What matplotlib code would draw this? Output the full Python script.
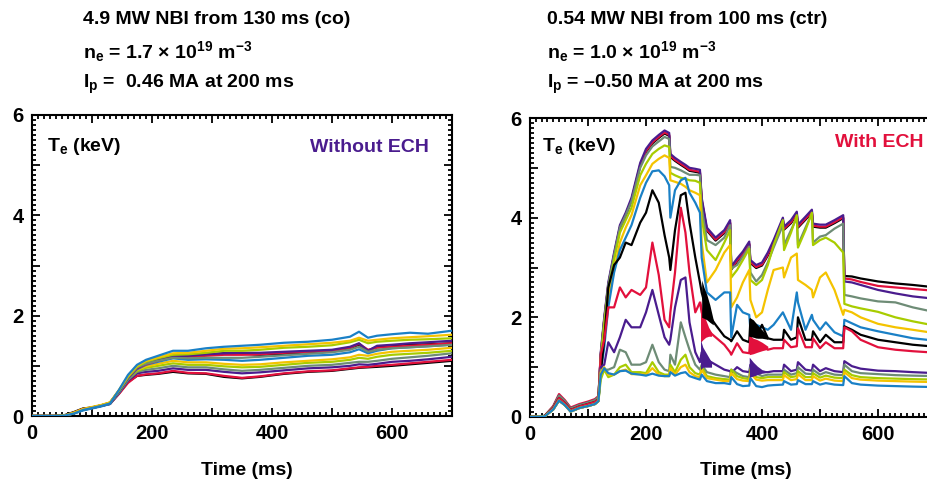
import matplotlib
matplotlib.use('Agg')
import matplotlib.pyplot as plt
from matplotlib.ticker import MultipleLocator, FuncFormatter

plt.rcParams['font.family'] = ['Liberation Sans', 'DejaVu Sans']
plt.rcParams['font.weight'] = 'bold'
plt.rcParams['mathtext.fontset'] = 'custom'
plt.rcParams['mathtext.rm'] = 'Liberation Sans:bold'
plt.rcParams['mathtext.it'] = 'Liberation Sans:bold'
plt.rcParams['mathtext.bf'] = 'Liberation Sans:bold'
plt.rcParams['mathtext.default'] = 'rm'

# channel colours, innermost chord first (two cycles of seven)
colors = ['#000000', '#E2103C', '#4A1C8E', '#6E8C76', '#A8CC00', '#F4C300', '#1A80C6'] * 2

# ---------------- shot without ECH ----------------
t_noech = [0, 40, 55, 70, 85, 100, 115, 130, 145, 160, 175, 190, 210, 235, 260,
           290, 320, 350, 380, 420, 460, 500, 530, 545, 560, 575, 600, 630, 660, 700]

te_noech = [
    [0, 0, 0.01, 0.07, 0.14, 0.16, 0.2, 0.24, 0.45, 0.68, 0.8, 0.82, 0.84, 0.88, 0.85,
     0.84, 0.78, 0.75, 0.78, 0.84, 0.88, 0.9, 0.94, 0.96, 0.97, 0.98, 1.0, 1.03, 1.06, 1.1],
    [0, 0, 0.01, 0.06, 0.13, 0.16, 0.2, 0.24, 0.44, 0.66, 0.8, 0.83, 0.85, 0.9, 0.86,
     0.85, 0.8, 0.76, 0.79, 0.85, 0.89, 0.91, 0.95, 0.97, 0.98, 1.0, 1.02, 1.05, 1.08, 1.12],
    [0, 0, 0.01, 0.06, 0.12, 0.16, 0.2, 0.25, 0.46, 0.7, 0.85, 0.88, 0.9, 0.95, 0.92,
     0.92, 0.88, 0.85, 0.87, 0.91, 0.95, 0.97, 1.0, 1.03, 1.02, 1.04, 1.08, 1.1, 1.13, 1.18],
    [0, 0, 0.01, 0.05, 0.12, 0.16, 0.2, 0.25, 0.47, 0.72, 0.88, 0.92, 0.95, 1.0, 0.97,
     0.97, 0.93, 0.9, 0.92, 0.96, 1.0, 1.02, 1.06, 1.08, 1.08, 1.1, 1.14, 1.17, 1.2, 1.25],
    [0, 0, 0.01, 0.06, 0.13, 0.17, 0.21, 0.26, 0.48, 0.74, 0.9, 0.96, 1.0, 1.05, 1.02,
     1.02, 0.99, 0.97, 0.98, 1.02, 1.06, 1.08, 1.12, 1.16, 1.14, 1.18, 1.22, 1.24, 1.26, 1.3],
    [0, 0, 0.01, 0.06, 0.13, 0.17, 0.21, 0.27, 0.49, 0.75, 0.92, 0.99, 1.04, 1.1, 1.07,
     1.07, 1.04, 1.02, 1.03, 1.07, 1.1, 1.13, 1.17, 1.22, 1.2, 1.24, 1.28, 1.3, 1.32, 1.36],
    [0, 0, 0.01, 0.05, 0.11, 0.15, 0.19, 0.24, 0.47, 0.74, 0.93, 1.02, 1.08, 1.15, 1.12,
     1.13, 1.12, 1.1, 1.12, 1.16, 1.2, 1.22, 1.27, 1.33, 1.25, 1.3, 1.35, 1.37, 1.39, 1.42],
    [0, 0, 0.02, 0.08, 0.15, 0.17, 0.21, 0.26, 0.5, 0.77, 0.97, 1.05, 1.12, 1.2, 1.2,
     1.22, 1.25, 1.24, 1.22, 1.24, 1.27, 1.3, 1.35, 1.42, 1.3, 1.38, 1.4, 1.42, 1.43, 1.45],
    [0, 0, 0.01, 0.07, 0.14, 0.17, 0.21, 0.26, 0.5, 0.76, 0.95, 1.03, 1.1, 1.18, 1.18,
     1.2, 1.22, 1.22, 1.23, 1.26, 1.28, 1.3, 1.36, 1.44, 1.32, 1.36, 1.38, 1.4, 1.42, 1.45],
    [0, 0, 0.01, 0.06, 0.13, 0.17, 0.21, 0.26, 0.5, 0.77, 0.96, 1.05, 1.13, 1.2, 1.2,
     1.23, 1.25, 1.26, 1.26, 1.28, 1.3, 1.32, 1.38, 1.45, 1.3, 1.4, 1.42, 1.45, 1.47, 1.5],
    [0, 0, 0.01, 0.06, 0.13, 0.17, 0.21, 0.26, 0.5, 0.77, 0.97, 1.04, 1.1, 1.16, 1.15,
     1.16, 1.16, 1.16, 1.18, 1.21, 1.24, 1.27, 1.32, 1.38, 1.28, 1.32, 1.35, 1.37, 1.39, 1.42],
    [0, 0, 0.01, 0.06, 0.13, 0.17, 0.21, 0.27, 0.51, 0.78, 0.98, 1.08, 1.15, 1.22, 1.23,
     1.26, 1.3, 1.3, 1.32, 1.36, 1.38, 1.41, 1.47, 1.52, 1.45, 1.48, 1.5, 1.52, 1.53, 1.55],
    [0, 0, 0.01, 0.07, 0.14, 0.18, 0.22, 0.27, 0.52, 0.8, 1.0, 1.1, 1.17, 1.25, 1.26,
     1.3, 1.34, 1.35, 1.37, 1.4, 1.43, 1.46, 1.5, 1.56, 1.5, 1.52, 1.55, 1.57, 1.59, 1.62],
    [0, 0, 0.01, 0.05, 0.12, 0.16, 0.2, 0.25, 0.52, 0.82, 1.02, 1.12, 1.2, 1.3, 1.3,
     1.35, 1.38, 1.4, 1.42, 1.46, 1.48, 1.52, 1.58, 1.68, 1.56, 1.6, 1.63, 1.66, 1.64, 1.7],
]

# ---------------- shot with ECH ----------------
t_ech = [0, 25, 40, 50, 60, 70, 85, 100, 112, 118,
         122, 128, 135, 145, 155, 165, 175, 190, 200, 211,
         222, 232, 240, 242, 250, 260, 268, 275, 285, 293,
         296, 305, 320, 335, 345, 347, 357, 367, 378, 380,
         390, 400, 410, 420, 436, 438, 450, 460, 462, 475,
         486, 488, 500, 510, 525, 540, 542, 555, 570, 600,
         630, 660, 700]

te_ech = [
    # black (core)
    [0.0, 0.02, 0.2, 0.43, 0.32, 0.17, 0.24, 0.29, 0.34, 0.4,
     1.24, 1.94, 2.64, 3.24, 3.79, 4.04, 4.34, 5.04, 5.32, 5.49,
     5.6, 5.69, 5.64, 5.22, 5.14, 5.06, 5.0, 4.94, 4.92, 4.9,
     4.34, 3.74, 3.54, 3.69, 3.89, 2.96, 3.12, 3.26, 3.46, 3.09,
     2.99, 3.04, 3.24, 3.49, 3.94, 3.76, 3.89, 4.06, 3.8, 3.96,
     4.1, 3.82, 3.8, 3.8, 3.89, 3.99, 2.83, 2.82, 2.78, 2.72,
     2.68, 2.65, 2.6],
    # red
    [0.0, 0.02, 0.22, 0.46, 0.34, 0.19, 0.26, 0.31, 0.36, 0.42,
     1.26, 1.96, 2.66, 3.26, 3.81, 4.06, 4.36, 5.06, 5.34, 5.51,
     5.62, 5.71, 5.66, 5.24, 5.16, 5.08, 5.02, 4.96, 4.94, 4.92,
     4.36, 3.76, 3.56, 3.71, 3.91, 2.98, 3.14, 3.28, 3.48, 3.11,
     3.01, 3.06, 3.26, 3.51, 3.96, 3.78, 3.91, 4.08, 3.82, 3.98,
     4.12, 3.84, 3.82, 3.82, 3.91, 4.01, 2.78, 2.76, 2.71, 2.63,
     2.6, 2.57, 2.53],
    # purple
    [0.0, 0.02, 0.2, 0.43, 0.32, 0.17, 0.24, 0.29, 0.34, 0.4,
     1.3, 2.0, 2.7, 3.3, 3.85, 4.1, 4.4, 5.1, 5.38, 5.55,
     5.66, 5.75, 5.7, 5.28, 5.2, 5.12, 5.06, 5.0, 4.98, 4.96,
     4.4, 3.8, 3.6, 3.75, 3.95, 3.02, 3.18, 3.32, 3.52, 3.15,
     3.05, 3.1, 3.3, 3.55, 4.0, 3.82, 3.95, 4.12, 3.86, 4.02,
     4.16, 3.88, 3.86, 3.86, 3.95, 4.05, 2.72, 2.7, 2.65, 2.55,
     2.48, 2.42, 2.37],
    # gray
    [0.0, 0.02, 0.2, 0.43, 0.32, 0.17, 0.24, 0.29, 0.34, 0.4,
     1.25, 1.95, 2.65, 3.25, 3.8, 4.05, 4.33, 5.0, 5.25, 5.43,
     5.53, 5.62, 5.58, 5.02, 5.0, 4.95, 4.9, 4.86, 4.86, 4.85,
     4.2, 3.55, 3.45, 3.6, 3.85, 2.98, 3.05, 3.22, 3.42, 2.9,
     2.72, 2.85, 3.1, 3.4, 3.85, 3.45, 3.75, 4.0, 3.45, 3.8,
     4.08, 3.5, 3.62, 3.65, 3.78, 3.88, 2.45, 2.42, 2.38, 2.32,
     2.3, 2.2, 2.1],
    # lime
    [0.0, 0.02, 0.18, 0.38, 0.28, 0.14, 0.21, 0.26, 0.3, 0.36,
     1.15, 1.85, 2.55, 3.15, 3.7, 3.95, 4.2, 4.85, 5.08, 5.28,
     5.38, 5.45, 5.42, 4.9, 4.85, 4.8, 4.78, 4.75, 4.74, 4.7,
     4.0, 3.35, 3.15, 3.5, 3.75, 2.8, 2.95, 3.15, 3.38, 2.75,
     2.65, 2.75, 3.05, 3.45, 3.95, 3.35, 3.7, 4.05, 3.4, 3.75,
     4.1, 3.45, 3.55, 3.6, 3.5, 3.3, 2.27, 2.22, 2.18, 2.11,
     2.0, 1.92, 1.83],
    # gold
    [0.0, 0.02, 0.18, 0.38, 0.28, 0.14, 0.21, 0.26, 0.3, 0.36,
     1.0, 1.6, 2.35, 2.95, 3.5, 3.8, 4.05, 4.65, 4.85, 5.08,
     5.18, 5.25, 5.2, 4.75, 4.72, 4.68, 4.62, 4.55, 4.5, 4.45,
     3.5, 2.7, 2.95, 3.3, 3.45, 2.2, 2.4, 2.7, 2.95, 2.35,
     2.0, 2.1, 2.55, 2.95, 3.0, 2.8, 3.2, 3.28, 2.75, 2.65,
     2.55, 2.4, 2.8, 2.9, 2.55, 2.05, 2.15, 2.1, 2.0, 1.87,
     1.8, 1.75, 1.68],
    # blue
    [0.0, 0.02, 0.18, 0.38, 0.28, 0.14, 0.21, 0.26, 0.3, 0.36,
     0.9, 1.4, 2.2, 2.9, 3.35, 3.6, 3.85, 4.4, 4.7, 4.93,
     4.95, 4.83, 4.65, 4.0, 4.55, 4.75, 4.8, 4.5, 4.3, 4.1,
     3.2, 2.5, 2.35, 2.5, 2.5, 1.6, 2.25, 2.1, 2.05, 1.75,
     1.85, 1.8, 1.75, 1.85, 2.1, 2.05, 1.75, 2.5, 2.3, 1.75,
     2.05, 1.95, 1.75, 1.9, 1.7, 1.62, 1.95, 1.88, 1.8, 1.72,
     1.65, 1.58, 1.53],
    # black
    [0.0, 0.02, 0.18, 0.38, 0.28, 0.14, 0.21, 0.26, 0.3, 0.36,
     0.9, 1.55, 2.6, 3.05, 3.2, 3.5, 3.45, 3.9, 4.1, 4.55,
     4.3, 3.65, 3.2, 2.95, 3.75, 4.45, 4.5, 3.9, 3.2, 2.7,
     2.5, 2.1, 1.85, 1.62, 1.55, 1.52, 1.72, 1.55, 1.5, 1.95,
     1.6, 1.85, 1.58, 1.55, 1.55, 1.75, 1.55, 1.6, 2.0, 1.55,
     1.55, 1.72, 1.5, 1.65, 1.5, 1.5, 1.82, 1.75, 1.65, 1.55,
     1.5, 1.45, 1.41],
    # red
    [0.0, 0.02, 0.18, 0.38, 0.28, 0.14, 0.21, 0.26, 0.3, 0.36,
     1.25, 1.55, 2.2, 2.2, 2.6, 2.4, 2.55, 2.45, 2.6, 3.5,
     2.85, 1.95, 1.8, 2.1, 2.9, 4.2, 3.7, 2.9, 2.1, 2.3,
     2.1, 1.75, 1.6, 1.45, 1.3, 1.25, 1.48, 1.3, 1.28, 1.6,
     1.45, 1.45, 1.35, 1.38, 1.38, 1.55, 1.4, 1.42, 1.78, 1.4,
     1.4, 1.58, 1.38, 1.5, 1.38, 1.38, 1.8, 1.72, 1.55, 1.4,
     1.35, 1.32, 1.29],
    # purple
    [0.0, 0.01, 0.15, 0.33, 0.24, 0.11, 0.18, 0.22, 0.26, 0.32,
     1.0, 1.05, 1.5, 1.3, 1.6, 1.95, 1.8, 1.8, 2.1, 2.55,
     2.05, 1.6, 1.45, 1.55, 2.2, 2.75, 2.8, 1.9, 1.3, 1.1,
     1.3, 1.15, 1.05, 0.95, 0.92, 0.88, 1.0, 0.92, 0.9, 1.05,
     0.95, 0.9, 0.9, 0.92, 0.92, 1.05, 0.92, 0.95, 1.1, 0.95,
     0.93, 1.05, 0.92, 0.98, 0.92, 0.9, 1.12, 1.02, 0.97, 0.93,
     0.92, 0.9, 0.88],
    # gray
    [0.0, 0.01, 0.15, 0.33, 0.24, 0.11, 0.18, 0.22, 0.26, 0.32,
     0.95, 0.95, 0.95, 1.0, 1.35, 1.3, 1.05, 1.05, 1.1, 1.45,
     1.1, 0.95, 0.92, 1.25, 1.05, 1.9, 1.6, 1.35, 1.05, 0.95,
     1.05, 0.9, 0.85, 0.82, 0.8, 0.95, 0.88, 0.82, 0.8, 1.0,
     0.88, 0.82, 0.85, 0.85, 0.85, 0.95, 0.85, 0.88, 1.0, 0.87,
     0.86, 0.95, 0.85, 0.9, 0.85, 0.84, 1.05, 0.92, 0.88, 0.86,
     0.84, 0.83, 0.82],
    # lime
    [0.0, 0.01, 0.15, 0.33, 0.24, 0.11, 0.18, 0.22, 0.26, 0.32,
     0.75, 0.95, 0.8, 0.85, 1.0, 1.05, 0.9, 0.9, 0.88, 1.1,
     0.9, 0.85, 0.85, 1.05, 0.9, 1.15, 1.25, 1.0, 0.88, 0.85,
     1.0, 0.82, 0.78, 0.76, 0.75, 0.95, 0.82, 0.78, 0.76, 0.95,
     0.8, 0.78, 0.8, 0.8, 0.8, 0.9, 0.8, 0.82, 0.92, 0.8,
     0.8, 0.88, 0.79, 0.83, 0.79, 0.78, 0.95, 0.84, 0.8, 0.78,
     0.77, 0.76, 0.75],
    # gold
    [0.0, 0.01, 0.15, 0.33, 0.24, 0.11, 0.18, 0.22, 0.26, 0.32,
     0.9, 1.0, 0.85, 0.85, 0.92, 0.95, 0.86, 0.86, 0.85, 0.98,
     0.85, 0.82, 0.82, 0.98, 0.85, 1.0, 1.05, 0.9, 0.82, 0.8,
     0.95, 0.78, 0.75, 0.72, 0.72, 0.88, 0.76, 0.73, 0.72, 0.88,
     0.75, 0.73, 0.74, 0.74, 0.74, 0.84, 0.74, 0.76, 0.86, 0.74,
     0.74, 0.82, 0.73, 0.77, 0.73, 0.72, 0.9, 0.78, 0.75, 0.73,
     0.72, 0.71, 0.7],
    # blue (edge)
    [0.0, 0.01, 0.15, 0.33, 0.24, 0.11, 0.18, 0.22, 0.26, 0.32,
     0.85, 0.98, 0.88, 0.85, 0.92, 0.93, 0.87, 0.85, 0.83, 0.87,
     0.83, 0.82, 0.82, 0.9, 0.83, 0.88, 0.9, 0.82, 0.78, 0.75,
     0.85, 0.72, 0.68, 0.68, 0.66, 0.8, 0.66, 0.62, 0.63, 0.78,
     0.62, 0.6, 0.63, 0.64, 0.65, 0.72, 0.65, 0.66, 0.74, 0.66,
     0.66, 0.72, 0.65, 0.68, 0.65, 0.64, 0.82, 0.68, 0.65, 0.63,
     0.62, 0.61, 0.6],
]

# fast oscillating stretches (envelope of the trace): channel index, times, low, high
bursts = [
    (8, [294, 298, 303, 308, 313], [1.5, 1.55, 1.6, 1.62, 1.62], [2.35, 2.1, 1.95, 1.8, 1.7]),
    (7, [296, 300, 305, 310, 316], [2.0, 1.98, 1.95, 1.9, 1.85], [2.75, 2.6, 2.45, 2.25, 1.95]),
    (9, [294, 298, 303, 308, 313], [0.95, 1.0, 1.0, 1.0, 1.0], [1.55, 1.4, 1.3, 1.2, 1.1]),
    (8, [378, 385, 392, 400, 410], [1.25, 1.27, 1.3, 1.33, 1.36], [1.62, 1.58, 1.55, 1.5, 1.42]),
    (7, [378, 385, 392, 400, 410], [1.62, 1.6, 1.58, 1.58, 1.56], [2.0, 1.95, 1.85, 1.75, 1.62]),
    (9, [378, 385, 392, 400, 410], [0.8, 0.82, 0.85, 0.88, 0.9], [1.2, 1.1, 1.02, 0.95, 0.92]),
]

fig = plt.figure(figsize=(9.28, 4.84), dpi=100)
ax1 = fig.add_axes([32 / 928, 68 / 484, 420 / 928, 301 / 484])
ax2 = fig.add_axes([530 / 928, 67 / 484, 406 / 928, 299 / 484])

for i, y in enumerate(te_noech):
    ax1.plot(t_noech, y, color=colors[i], lw=1.6, zorder=2 + i)

for i, y in enumerate(te_ech):
    ax2.plot(t_ech, y, color=colors[i], lw=1.6, zorder=2 + i)
for k, (ch, tb, lo, hi) in enumerate(bursts):
    ax2.fill_between(tb, lo, hi, color=colors[ch], lw=0, zorder=20 + k)


def even_x(v, pos):
    return '%d' % v if round(v) % 200 == 0 else ''


def even_y(v, pos):
    return '%d' % round(v) if round(v) % 2 == 0 else ''


for ax in (ax1, ax2):
    ax.set_xlim(0, 700)
    ax.set_ylim(0, 6)
    ax.xaxis.set_major_locator(MultipleLocator(100))
    ax.xaxis.set_minor_locator(MultipleLocator(10))
    ax.yaxis.set_major_locator(MultipleLocator(1))
    ax.yaxis.set_minor_locator(MultipleLocator(0.1))
    ax.xaxis.set_major_formatter(FuncFormatter(even_x))
    ax.yaxis.set_major_formatter(FuncFormatter(even_y))
    ax.tick_params(which='both', direction='in', top=True, right=True, width=1.3,
                   labelsize=14.5, colors='black')
    ax.tick_params(which='major', length=6, pad=6)
    ax.tick_params(which='minor', length=3)
    for s in ax.spines.values():
        s.set_linewidth(1.5)

ax1.text(0.512, -0.18, 'Time (ms)', transform=ax1.transAxes, ha='center', va='center',
         fontsize=14, fontweight='bold')
ax2.text(0.532, -0.18, 'Time (ms)', transform=ax2.transAxes, ha='center', va='center',
         fontsize=14, fontweight='bold')

ax1.text(25, 5.38, r'T$_{e}$ (keV)', fontsize=14, va='center', ha='left')
ax2.text(20, 5.42, r'T$_{e}$ (keV)', fontsize=14, va='center', ha='left')
ax1.text(662, 5.36, 'Without ECH', color='#4A1C8E', fontsize=14, ha='right', va='center')
ax2.text(678, 5.5, 'With ECH', color='#E2103C', fontsize=14, ha='right', va='center')

left_head = ['4.9 MW NBI from 130 ms (co)',
             r'n$_{e}$ = 1.7 × 10$^{19}$ m$^{-3}$',
             r'I$_{p}$ =  0.46 MA at 200 ms']
right_head = ['0.54 MW NBI from 100 ms (ctr)',
              r'n$_{e}$ = 1.0 × 10$^{19}$ m$^{-3}$',
              r'I$_{p}$ = –0.50 MA at 200 ms']
for k, (a, b) in enumerate(zip(left_head, right_head)):
    y = 1 - (20 + 32 * k) / 484
    fig.text(83 / 928, y, a, fontsize=14, ha='left', va='center')
    fig.text(547 / 928, y, b, fontsize=14, ha='left', va='center')

fig.savefig('out.png', dpi=100)
